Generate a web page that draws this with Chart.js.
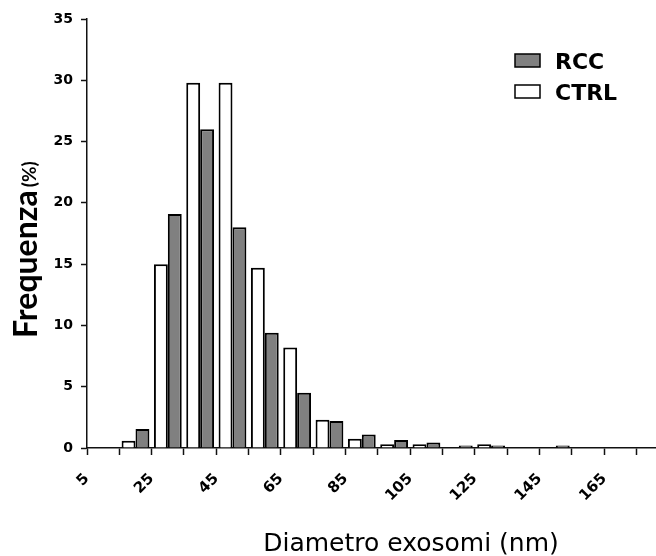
<!DOCTYPE html>
<html>
<head>
<meta charset="utf-8">
<script src="https://cdn.jsdelivr.net/npm/chart.js@4.4.1/dist/chart.umd.min.js"></script>
<style>
  html, body { margin: 0; padding: 0; background: #fff; overflow: hidden; }
  #wrap { width: 656px; height: 556px; }
</style>
</head>
<body>
<div id="wrap"><canvas id="chart" width="656" height="556"></canvas></div>
<script>
// 10 nm bins, value = bin centre
const binCentres = [20, 30, 40, 50, 60, 70, 80, 90, 100, 110, 120, 130, 140, 150, 160, 170];
const ctrlValues = [0.6, 15.0, 29.8, 29.8, 14.7, 8.2, 2.3, 0.75, 0.3, 0.3, 0, 0.3, 0, 0, 0, 0];
const rccValues  = [1.55, 19.1, 26.0, 18.0, 9.4, 4.5, 2.2, 1.1, 0.65, 0.45, 0.2, 0.2, 0, 0.2, 0, 0];

const xTickValues = [5, 15, 25, 35, 45, 55, 65, 75, 85, 95, 105, 115, 125, 135, 145, 155, 165, 175];
const xTickLabels = ['5', '', '25', '', '45', '', '65', '', '85', '', '105', '', '125', '', '145', '', '165', ''];

const xTitle = 'Diametro exosomi (nm)';
const yTitle = 'Frequenza';
const yUnit = '(%)';

const toPoints = (vals) => vals.map((v, i) => ({ x: binCentres[i], y: v }));

// axis titles + legend drawn on top, the legend sits inside the plot
const overlayText = {
  id: 'overlayText',
  afterDraw(chart) {
    const ctx = chart.ctx;
    ctx.save();
    ctx.fillStyle = '#000';
    ctx.textBaseline = 'alphabetic';

    // y title (big word + small unit)
    ctx.save();
    ctx.translate(37, 338);
    ctx.rotate(-Math.PI / 2);
    ctx.textAlign = 'left';
    ctx.font = 'bold 32px Lato';
    ctx.fillText(yTitle, 0, 0);
    const w = ctx.measureText(yTitle).width;
    ctx.font = 'bold 19px Lato';
    ctx.fillText(yUnit, w + 3, -1);
    ctx.restore();

    // x title
    ctx.textAlign = 'center';
    ctx.font = '25px "DejaVu Sans"';
    ctx.fillText(xTitle, 411, 551);

    // legend, RCC first
    const items = [...chart.data.datasets].reverse();
    items.forEach((ds, i) => {
      const top = 54 + i * 31;
      ctx.fillStyle = ds.backgroundColor;
      ctx.fillRect(515, top, 25, 13);
      ctx.lineWidth = 1.5;
      ctx.strokeStyle = '#000';
      ctx.strokeRect(515, top, 25, 13);
      ctx.fillStyle = '#000';
      ctx.textAlign = 'left';
      ctx.font = 'bold 22px "DejaVu Sans"';
      ctx.fillText(ds.label, 555, top + 15);
    });
    ctx.restore();
  }
};

new Chart(document.getElementById('chart'), {
  type: 'bar',
  data: {
    datasets: [
      {
        label: 'CTRL',
        data: toPoints(ctrlValues),
        backgroundColor: '#ffffff',
        borderColor: '#000000',
        borderWidth: 2,
        categoryPercentage: 0.86,
        barPercentage: 1.0
      },
      {
        label: 'RCC',
        data: toPoints(rccValues),
        backgroundColor: '#808080',
        borderColor: '#000000',
        borderWidth: 2,
        categoryPercentage: 0.86,
        barPercentage: 1.0
      }
    ]
  },
  options: {
    responsive: false,
    animation: false,
    layout: { padding: { top: 19, left: 0, right: 0, bottom: 0 } },
    plugins: {
      legend: { display: false },
      tooltip: { enabled: false }
    },
    scales: {
      x: {
        type: 'linear',
        min: 5,
        max: 181,
        offset: false,
        afterBuildTicks: (s) => { s.ticks = xTickValues.map(v => ({ value: v })); },
        grid: { offset: false, drawOnChartArea: false, tickLength: 7, tickColor: '#111', tickWidth: 1.5 },
        border: { color: '#111', width: 1.5 },
        ticks: {
          autoSkip: false,
          minRotation: 45,
          maxRotation: 45,
          padding: 15,
          color: '#000',
          font: { family: 'DejaVu Sans', weight: 'bold', size: 15 },
          callback: (v, i) => xTickLabels[i]
        },
        afterFit: (s) => {
          s.height = 108;
          s.paddingLeft = 0;
          s.paddingRight = 0;
        }
      },
      y: {
        min: 0,
        max: 35,
        grid: { drawOnChartArea: false, tickLength: 6, tickColor: '#111', tickWidth: 1.5 },
        border: { color: '#111', width: 1.5 },
        ticks: {
          stepSize: 5,
          padding: 8,
          color: '#000',
          font: { family: 'DejaVu Sans', weight: 'bold', size: 14 }
        },
        afterFit: (s) => { s.width = 87; }
      }
    }
  },
  plugins: [overlayText]
});
</script>
</body>
</html>
